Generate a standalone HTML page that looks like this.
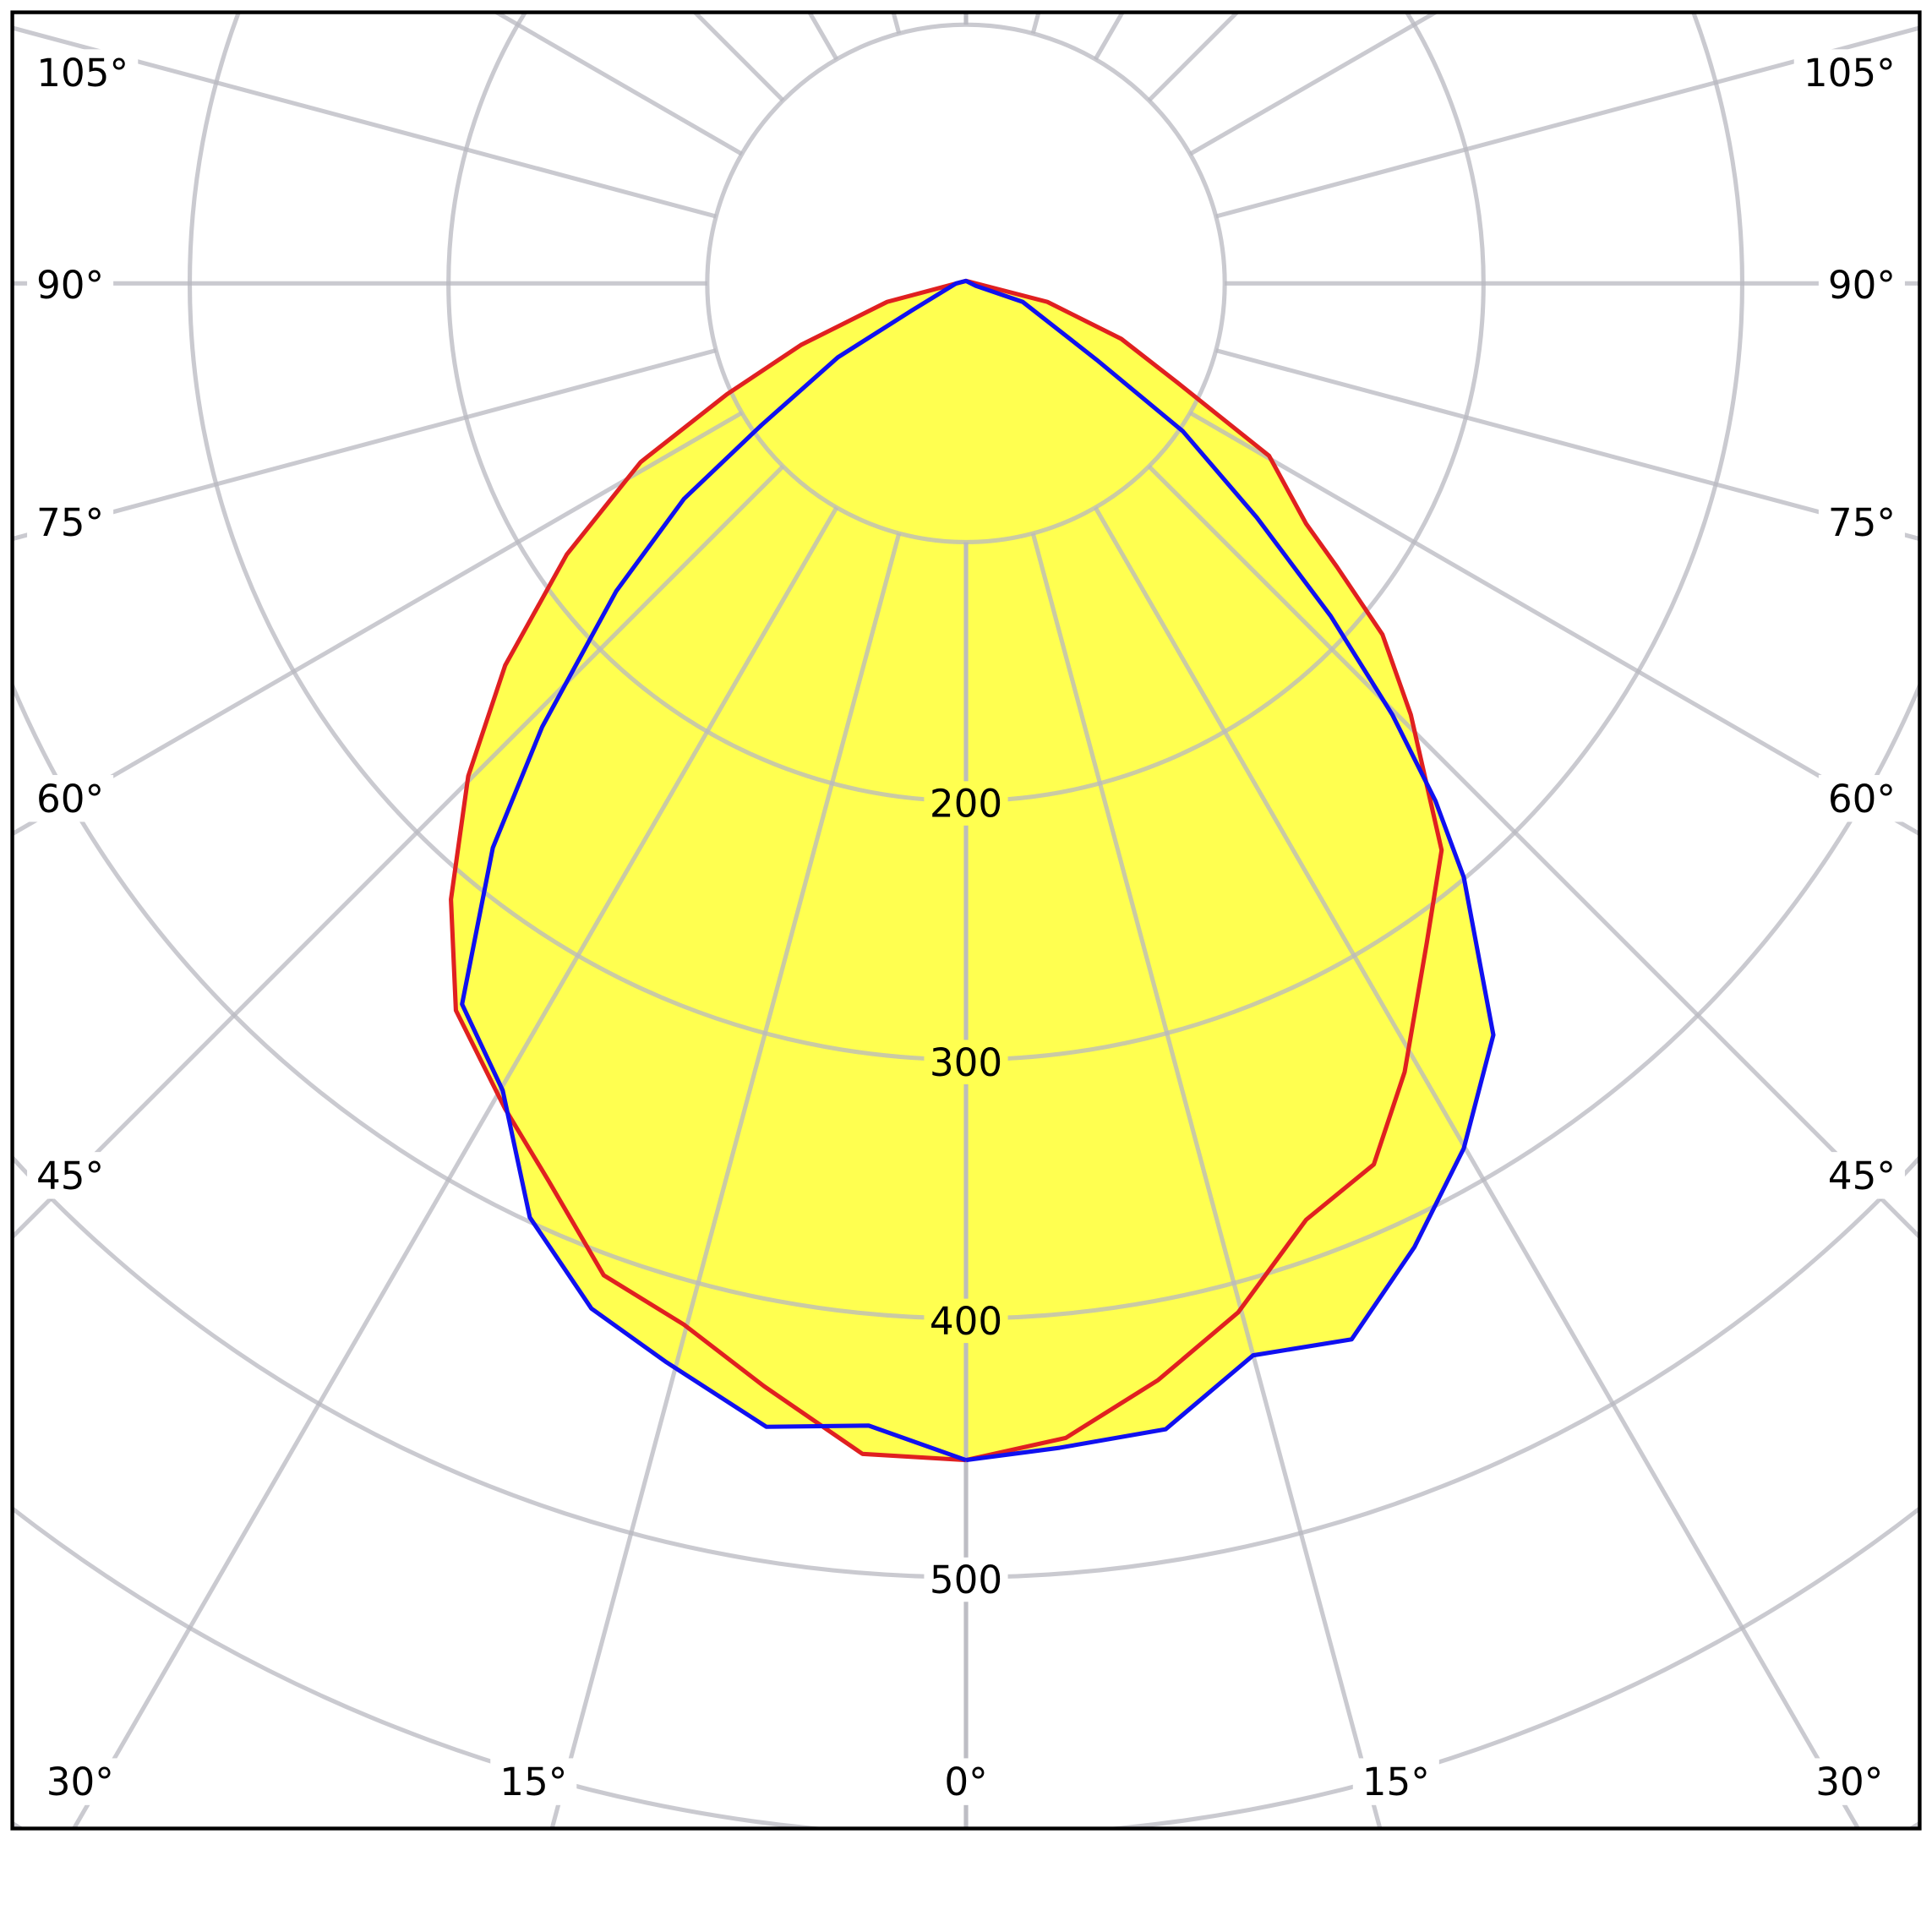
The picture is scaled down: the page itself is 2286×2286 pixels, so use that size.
<!DOCTYPE html>
<html><head><meta charset="utf-8"><style>
html,body{margin:0;padding:0;background:#fff;width:2286px;height:2286px;overflow:hidden;}
svg{display:block;}
text{font-family:"DejaVu Sans","Liberation Sans",sans-serif;font-size:31px;fill:#000;}
</style></head><body>
<svg width="2286" height="2286" viewBox="0 0 1568 1568" xmlns="http://www.w3.org/2000/svg">
<defs><clipPath id="c"><rect x="10" y="10" width="1548" height="1474"/></clipPath></defs>
<rect width="1568" height="1568" fill="#fff"/>
<g clip-path="url(#c)">
<polygon fill="#ffff50" points="784,1185 700,1180 620,1125 555,1075 490,1035 445,958 410,900 370,820 366,730 380,630 410,540 460,450 520,375 590,320 650,280 720,245 784,228 850,245 910,275 955,310 1030,370 1060,425 1085,460 1122,515 1145,580 1170,690 1158,765 1140,870 1115,945 1060,990 1005,1065 940,1120 865,1167"/>
<polygon fill="#ffff50" points="784,1185 705,1157 622,1158 540,1105 480,1062 430,988 408,885 375,815 400,688 440,590 500,480 555,405 618,345 680,290 740,252 776,230 784,228 792,232 830,245 890,292 960,350 1020,420 1080,500 1130,580 1165,650 1188,712 1212,840 1188,932 1148,1012 1097,1087 1017,1100 946,1160 860,1175"/>
<g fill="none" stroke="#b8b8c0" stroke-opacity="0.75" stroke-width="3.5">
<circle cx="784" cy="230" r="210"/><circle cx="784" cy="230" r="420"/><circle cx="784" cy="230" r="630"/>
<circle cx="784" cy="230" r="840"/><circle cx="784" cy="230" r="1050"/><circle cx="784" cy="230" r="1260"/>
<circle cx="784" cy="230" r="1470"/><circle cx="784" cy="230" r="1680"/>
<g id="r">
<line x1="784" y1="440" x2="784" y2="2400"/>
<line x1="784" y1="440" x2="784" y2="2400" transform="rotate(15 784 230)"/>
<line x1="784" y1="440" x2="784" y2="2400" transform="rotate(30 784 230)"/>
<line x1="784" y1="440" x2="784" y2="2400" transform="rotate(45 784 230)"/>
<line x1="784" y1="440" x2="784" y2="2400" transform="rotate(60 784 230)"/>
<line x1="784" y1="440" x2="784" y2="2400" transform="rotate(75 784 230)"/>
<line x1="784" y1="440" x2="784" y2="2400" transform="rotate(90 784 230)"/>
<line x1="784" y1="440" x2="784" y2="2400" transform="rotate(105 784 230)"/>
<line x1="784" y1="440" x2="784" y2="2400" transform="rotate(120 784 230)"/>
<line x1="784" y1="440" x2="784" y2="2400" transform="rotate(135 784 230)"/>
<line x1="784" y1="440" x2="784" y2="2400" transform="rotate(150 784 230)"/>
<line x1="784" y1="440" x2="784" y2="2400" transform="rotate(165 784 230)"/>
<line x1="784" y1="440" x2="784" y2="2400" transform="rotate(180 784 230)"/>
</g>
<use href="#r" transform="matrix(-1 0 0 1 1568 0)"/>
</g>
<polyline fill="none" stroke="#e02020" stroke-width="3.5" stroke-linejoin="round" points="784,1185 700,1180 620,1125 555,1075 490,1035 445,958 410,900 370,820 366,730 380,630 410,540 460,450 520,375 590,320 650,280 720,245 784,228 850,245 910,275 955,310 1030,370 1060,425 1085,460 1122,515 1145,580 1170,690 1158,765 1140,870 1115,945 1060,990 1005,1065 940,1120 865,1167 784,1185"/>
<polyline fill="none" stroke="#1010f0" stroke-width="3.5" stroke-linejoin="round" points="784,1185 705,1157 622,1158 540,1105 480,1062 430,988 408,885 375,815 400,688 440,590 500,480 555,405 618,345 680,290 740,252 776,230 784,228 792,232 830,245 890,292 960,350 1020,420 1080,500 1130,580 1165,650 1188,712 1212,840 1188,932 1148,1012 1097,1087 1017,1100 946,1160 860,1175 784,1185"/>
<g fill="#fff">
<rect x="750" y="634" width="68" height="36" fill="#ffff50"/><rect x="750" y="844" width="68" height="36" fill="#ffff50"/>
<rect x="750" y="1054" width="68" height="36" fill="#ffff50"/><rect x="750" y="1264" width="68" height="36"/>
<rect x="22" y="40" width="90" height="38"/><rect x="1456" y="40" width="90" height="38"/>
<rect x="22" y="212" width="70" height="38"/><rect x="1476" y="212" width="70" height="38"/>
<rect x="22" y="405" width="70" height="38"/><rect x="1476" y="405" width="70" height="38"/>
<rect x="22" y="629" width="70" height="38"/><rect x="1476" y="629" width="70" height="38"/>
<rect x="22" y="935" width="70" height="38"/><rect x="1476" y="935" width="70" height="38"/>
<rect x="30" y="1427" width="70" height="38"/><rect x="398" y="1427" width="70" height="38"/>
<rect x="758" y="1427" width="52" height="38"/><rect x="1098" y="1427" width="70" height="38"/>
<rect x="1466" y="1427" width="70" height="38"/>
</g>
</g>
<rect x="10" y="10" width="1548" height="1474" fill="none" stroke="#000" stroke-width="3"/>
<g text-anchor="middle">
<text x="784" y="663">200</text><text x="784" y="873">300</text><text x="784" y="1083">400</text><text x="784" y="1293">500</text>
<text x="67" y="70">105°</text><text x="1501" y="70">105°</text>
<text x="57" y="242">90°</text><text x="1511" y="242">90°</text>
<text x="57" y="435">75°</text><text x="1511" y="435">75°</text>
<text x="57" y="659">60°</text><text x="1511" y="659">60°</text>
<text x="57" y="965">45°</text><text x="1511" y="965">45°</text>
<text x="65" y="1457">30°</text><text x="433" y="1457">15°</text><text x="784" y="1457">0°</text>
<text x="1133" y="1457">15°</text><text x="1501" y="1457">30°</text>
</g>
</svg>
</body></html>
